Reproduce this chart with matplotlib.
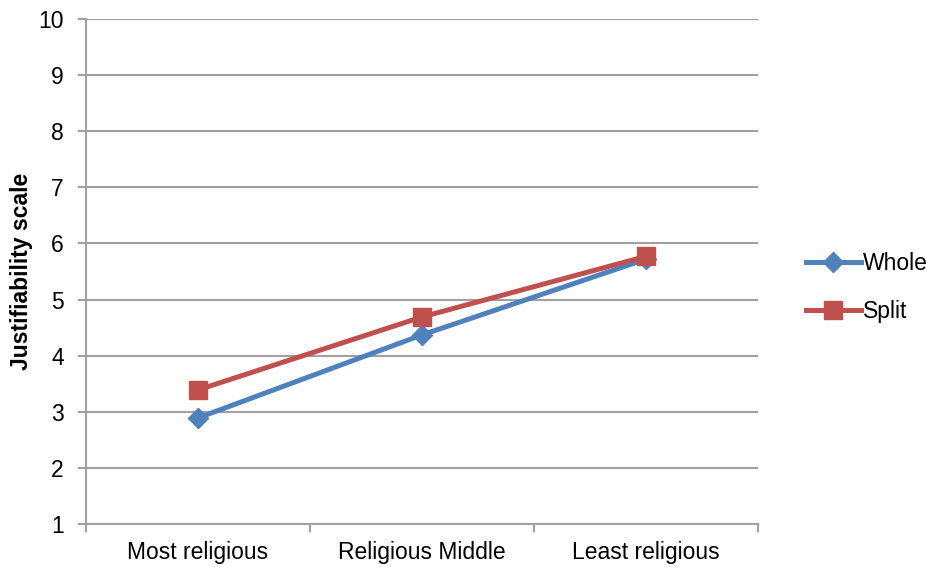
import matplotlib
matplotlib.use("Agg")
import matplotlib.pyplot as plt

plt.rcParams['font.family'] = ['Liberation Sans', 'DejaVu Sans']

categories = ["Most religious", "Religious Middle", "Least religious"]
whole = [2.89, 4.37, 5.72]
split = [3.39, 4.69, 5.77]
yticks = [1, 2, 3, 4, 5, 6, 7, 8, 9, 10]

blue = "#4F81BD"
red = "#C0504D"
grid_c = "#A0A0A0"
fs = 16.5

fig = plt.figure(figsize=(9.27, 5.67), dpi=100)
ax = fig.add_axes([86 / 927, 43 / 567, 672 / 927, 505 / 567])

x = list(range(len(categories)))
ax.plot(x, whole, color=blue, lw=3.6, marker="D", ms=10,
        markerfacecolor=blue, markeredgecolor=blue, label="Whole", zorder=3)
ax.plot(x, split, color=red, lw=3.6, marker="s", ms=13,
        markerfacecolor=red, markeredgecolor=red, label="Split", zorder=4)

ax.set_xlim(-0.5, len(categories) - 0.5)
ax.set_ylim(1, 10)
ax.set_yticks(yticks)
ax.set_yticklabels([str(v) for v in yticks], fontsize=fs)
ax.yaxis.grid(True, color=grid_c, lw=1.5)
ax.set_axisbelow(True)

# category labels sit between boundary tick marks
ax.set_xticks([i - 0.5 for i in range(len(categories) + 1)])
ax.set_xticklabels([])
ax.set_xticks(x, minor=True)
ax.set_xticklabels(categories, minor=True, fontsize=fs)
ax.tick_params(axis="x", which="minor", length=0, pad=12)
ax.tick_params(axis="x", which="major", length=6, width=1.5, color=grid_c, direction="out")
ax.tick_params(axis="y", length=6, width=1.5, color=grid_c, direction="out", pad=10)

for side in ["top", "right"]:
    ax.spines[side].set_visible(False)
for side in ["left", "bottom"]:
    ax.spines[side].set_color(grid_c)
    ax.spines[side].set_linewidth(1.5)

ax.set_ylabel("Justifiability scale", fontsize=fs, fontweight="bold", labelpad=4)

leg = ax.legend(loc="center left", bbox_to_anchor=(1.04, 0.469), frameon=False,
                fontsize=fs, handlelength=2.4, handletextpad=0.1, labelspacing=1.1)

fig.savefig("out.png", dpi=100)
